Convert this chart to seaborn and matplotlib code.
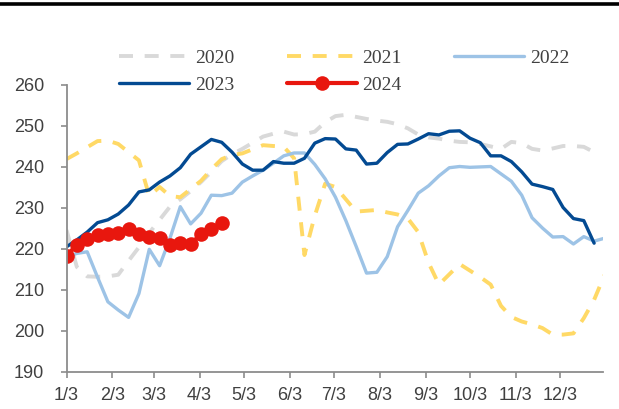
import numpy as np
import pandas as pd
import matplotlib
matplotlib.use("Agg")
import matplotlib.pyplot as plt
import seaborn as sns
from matplotlib.lines import Line2D

# ---- data (weekly values, x = days since 1/3) ----
tick_labels = ["1/3", "2/3", "3/3", "4/3", "5/3", "6/3", "7/3", "8/3", "9/3", "10/3", "11/3", "12/3"]
tick_days = [0, 31, 59, 90, 120, 151, 181, 212, 243, 273, 304, 334]

v2020 = [224.5, 215.5, 213.2, 213.1, 213.2, 213.6, 217.0, 220.3, 223.8, 227.0,
         230.2, 232.0, 234.0, 236.2, 238.7, 241.3, 243.0, 244.3, 245.8, 247.3,
         248.0, 248.5, 247.8, 247.9, 248.5, 250.8, 252.3, 252.6, 252.1, 251.6,
         251.2, 250.9, 250.3, 249.3, 247.8, 247.1, 246.8, 246.3, 246.0, 245.9,
         245.5, 244.9, 244.3, 246.0, 245.7, 244.3, 243.9, 244.4, 245.0, 245.0,
         244.8, 243.5]

v2021 = [241.8, 243.2, 244.7, 246.2, 246.3, 245.5, 243.5, 241.5, 232.8, 235.0,
         232.8, 232.5, 234.5, 236.5, 239.3, 241.8, 242.8, 243.2, 244.2, 245.2,
         245.0, 244.8, 242.0, 218.4, 228.0, 235.8, 235.0, 232.0, 229.0, 229.2,
         229.4, 228.8, 228.3, 227.3, 224.0, 216.5, 211.2, 213.7, 216.2, 214.6,
         213.0, 211.2, 206.0, 203.3, 202.2, 201.5, 200.6, 199.0, 199.0, 199.3,
         203.0, 207.5, 213.5]

v2022 = [218.0, 218.8, 219.2, 213.0, 207.0, 205.0, 203.2, 209.0, 219.8, 215.8,
         222.5, 230.2, 226.0, 228.6, 233.0, 232.9, 233.5, 236.2, 237.7, 239.1,
         240.8, 242.6, 243.3, 243.3, 240.5, 237.0, 232.5, 226.8, 220.5, 214.0,
         214.2, 218.0, 225.3, 229.3, 233.5, 235.3, 237.7, 239.7, 240.0, 239.8,
         239.9, 240.0, 238.2, 236.4, 233.0, 227.5, 225.0, 222.8, 222.9, 221.1,
         222.9, 221.8, 222.5]

v2023 = [220.4, 222.1, 224.0, 226.3, 227.0, 228.4, 230.6, 233.8, 234.3, 236.2,
         237.7, 239.7, 243.0, 244.8, 246.6, 245.9, 243.5, 240.6, 239.1, 239.1,
         241.2, 240.8, 240.8, 242.0, 245.7, 246.8, 246.7, 244.3, 244.0, 240.6,
         240.8, 243.4, 245.4, 245.5, 246.7, 248.0, 247.7, 248.6, 248.7, 246.9,
         245.8, 242.6, 242.6, 241.2, 238.7, 235.7, 235.1, 234.4, 230.0, 227.3,
         226.8, 221.3]

v2024 = [218.2, 220.9, 222.2, 223.3, 223.5, 223.9, 224.7, 223.5, 222.9, 222.5,
         220.9, 221.4, 221.1, 223.5, 224.7, 226.1]

series_names = ["2020", "2021", "2022", "2023", "2024"]
series_vals = [v2020, v2021, v2022, v2023, v2024]

# ---- styles ----
colors = {"2020": "#D9D9D9", "2021": "#FFD966", "2022": "#9DC3E6",
          "2023": "#034A92", "2024": "#E8170E"}

sns.set_style("white")
plt.rcParams["font.family"] = ["Liberation Sans", "DejaVu Sans"]

fig = plt.figure(figsize=(6.19, 4.09), dpi=100)
W, H = 619, 409
ax_left, ax_right, ax_top, ax_bot = 66.5, 603, 84.5, 371.5
ax = fig.add_axes([ax_left / W, 1 - ax_bot / H, (ax_right - ax_left) / W, (ax_bot - ax_top) / H])

handles = {}
for name, vals in zip(series_names, series_vals):
    days = np.arange(len(vals)) * 7
    df = pd.DataFrame({"day": days, "value": vals})
    kw = dict(color=colors[name], errorbar=None, ax=ax, legend=False)
    if name in ("2020", "2021"):
        sns.lineplot(data=df, x="day", y="value", linewidth=2.8, **kw)
        ln = ax.lines[-1]
        ln.set_dashes([3.6, 3.0])
    elif name == "2024":
        sns.lineplot(data=df, x="day", y="value", linewidth=3.0, marker="o",
                     markersize=10.5, markeredgewidth=0, **kw)
        ln = ax.lines[-1]
    else:
        sns.lineplot(data=df, x="day", y="value", linewidth=2.4, **kw)
        ln = ax.lines[-1]
    handles[name] = ln

ax.set_xlim(0, 363)
ax.set_ylim(190, 260)
ax.set_yticks(range(190, 261, 10))
ax.set_xticks(tick_days)
ax.set_xticklabels(tick_labels)
ax.set_xlabel("")
ax.set_ylabel("")

for side in ("top", "right"):
    ax.spines[side].set_visible(False)
for side in ("left", "bottom"):
    ax.spines[side].set_color("#8C8C8C")
    ax.spines[side].set_linewidth(1.3)

ax.tick_params(axis="y", direction="out", length=4, width=1.2, color="#8C8C8C",
               labelsize=13, labelcolor="#404040", pad=12, left=True)
ax.tick_params(axis="x", direction="out", length=4, width=1.2, color="#8C8C8C",
               labelsize=13, labelcolor="#404040", pad=7, bottom=True)
ax.grid(False)

# legend (row-wise order: 2020 2021 2022 / 2023 2024)
order = ["2020", "2023", "2021", "2024", "2022"]
leg = fig.legend([handles[n] for n in order], order,
                 loc="upper left", bbox_to_anchor=(119 / W, 1 - 49 / H),
                 ncol=3, frameon=False, borderpad=0, borderaxespad=0,
                 handlelength=3.6, handletextpad=0.3, columnspacing=2.7,
                 labelspacing=0.5,
                 prop={"family": "Liberation Serif", "size": 14})
for t in leg.get_texts():
    t.set_color("#404040")

# thick black rule at the top of the figure
fig.add_artist(Line2D([0, 1], [1 - 4 / H, 1 - 4 / H], color="black", linewidth=2.6,
                      transform=fig.transFigure))

fig.savefig("out.png", dpi=100)
